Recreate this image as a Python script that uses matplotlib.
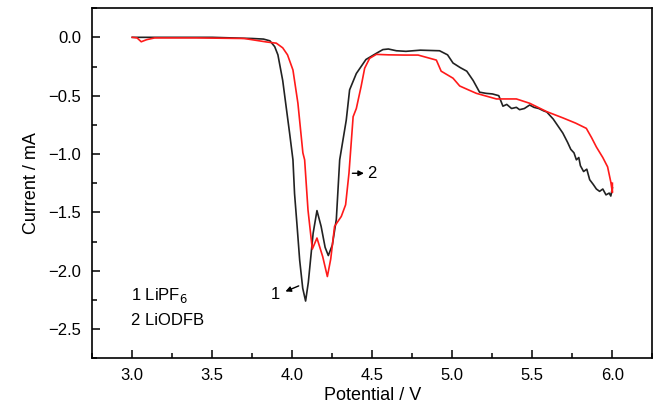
import numpy as np
import matplotlib.pyplot as plt
from matplotlib.ticker import MultipleLocator

plt.rcParams['font.family'] = ['Liberation Sans', 'DejaVu Sans']

# 1 LiPF6 (black curve)
v_pf6 = [3.00, 3.20, 3.50, 3.75, 3.82, 3.86, 3.89, 3.91, 3.94, 3.96, 3.983, 4.004, 4.014, 4.03, 4.046,
         4.065, 4.083, 4.10, 4.13, 4.154, 4.18, 4.205, 4.225, 4.25, 4.275, 4.296, 4.337,
         4.358, 4.40, 4.46, 4.525, 4.566, 4.60, 4.65, 4.71, 4.80, 4.92, 4.97, 5.004,
         5.05, 5.09, 5.13, 5.17, 5.21, 5.25, 5.29, 5.316, 5.34, 5.37, 5.40, 5.42, 5.45,
         5.483, 5.51, 5.54, 5.57, 5.59, 5.63, 5.66, 5.69, 5.72, 5.74, 5.76, 5.775, 5.79, 5.80, 5.82,
         5.84, 5.858, 5.88, 5.90, 5.92, 5.94, 5.96, 5.98, 5.99, 6.00]
i_pf6 = [0.0, 0.0, 0.0, -0.01, -0.015, -0.03, -0.08, -0.15, -0.37, -0.58, -0.82, -1.05, -1.34, -1.62, -1.91,
         -2.15, -2.26, -2.10, -1.68, -1.485, -1.62, -1.80, -1.87, -1.78, -1.56, -1.05, -0.71,
         -0.45, -0.31, -0.19, -0.137, -0.105, -0.10, -0.115, -0.12, -0.11, -0.115, -0.15, -0.22,
         -0.26, -0.29, -0.37, -0.47, -0.48, -0.485, -0.50, -0.59, -0.575, -0.61, -0.60, -0.62, -0.61,
         -0.58, -0.60, -0.61, -0.63, -0.64, -0.70, -0.76, -0.82, -0.90, -0.96, -0.99, -1.05, -1.03, -1.10, -1.15,
         -1.13, -1.22, -1.26, -1.30, -1.32, -1.30, -1.35, -1.335, -1.36, -1.29]

# 2 LiODFB (red curve)
v_odfb = [3.00, 3.03, 3.056, 3.09, 3.14, 3.40, 3.70, 3.84, 3.90, 3.94, 3.97, 4.004, 4.035, 4.066, 4.077,
          4.098, 4.125, 4.154, 4.19, 4.219, 4.24, 4.264, 4.306, 4.333, 4.354, 4.38, 4.40,
          4.43, 4.452, 4.483, 4.525, 4.60, 4.70, 4.786, 4.90, 4.93, 5.004, 5.046, 5.10,
          5.15, 5.275, 5.40, 5.483, 5.59, 5.69, 5.77, 5.837, 5.87, 5.90, 5.94, 5.97, 5.99, 6.00, 6.00]
i_odfb = [0.0, -0.005, -0.038, -0.02, -0.005, -0.005, -0.01, -0.04, -0.05, -0.09, -0.15, -0.28, -0.565, -0.99, -1.05,
          -1.48, -1.815, -1.72, -1.88, -2.05, -1.90, -1.62, -1.535, -1.435, -1.165, -0.68, -0.61,
          -0.42, -0.265, -0.18, -0.146, -0.15, -0.152, -0.152, -0.195, -0.29, -0.35, -0.417, -0.45,
          -0.48, -0.528, -0.528, -0.565, -0.637, -0.69, -0.735, -0.78, -0.86, -0.94, -1.03, -1.11, -1.24, -1.33, -1.25]

fig, ax = plt.subplots(figsize=(6.59, 4.08), dpi=100)
fig.subplots_adjust(left=0.14, right=0.99, top=0.98, bottom=0.122)

ax.plot(v_pf6, i_pf6, color='#222222', lw=1.2)
ax.plot(v_odfb, i_odfb, color='#ff1a1a', lw=1.2)

ax.set_xlim(2.75, 6.25)
ax.set_ylim(-2.75, 0.25)
ax.xaxis.set_major_locator(MultipleLocator(0.5))
ax.xaxis.set_minor_locator(MultipleLocator(0.25))
ax.yaxis.set_major_locator(MultipleLocator(0.5))
ax.yaxis.set_minor_locator(MultipleLocator(0.25))
ax.tick_params(which='both', direction='in', labelsize=12, width=1.1)
ax.tick_params(which='major', length=6)
ax.tick_params(which='minor', length=3.5)
ax.tick_params(axis='x', pad=7)
ax.tick_params(axis='y', pad=8)
for sp in ax.spines.values():
    sp.set_linewidth(1.2)

ax.set_xlabel('Potential / V', fontsize=13, labelpad=3)
ax.set_ylabel('Current / mA', fontsize=13, labelpad=6)

ax.text(2.99, -2.21, '1 LiPF$_6$', fontsize=12, va='center')
ax.text(2.99, -2.43, '2 LiODFB', fontsize=12, va='center')

# label 1 with arrow pointing at it
ax.annotate('', xy=(3.941, -2.187), xytext=(4.056, -2.121),
            arrowprops=dict(arrowstyle='-|>', color='black', lw=1, mutation_scale=8))
ax.text(3.894, -2.20, '1', fontsize=12, va='center', ha='center')
# label 2 with arrow pointing at it
ax.annotate('', xy=(4.465, -1.165), xytext=(4.358, -1.165),
            arrowprops=dict(arrowstyle='-|>', color='black', lw=1, mutation_scale=8))
ax.text(4.47, -1.165, '2', fontsize=12, va='center', ha='left')

fig.savefig('out.png')
